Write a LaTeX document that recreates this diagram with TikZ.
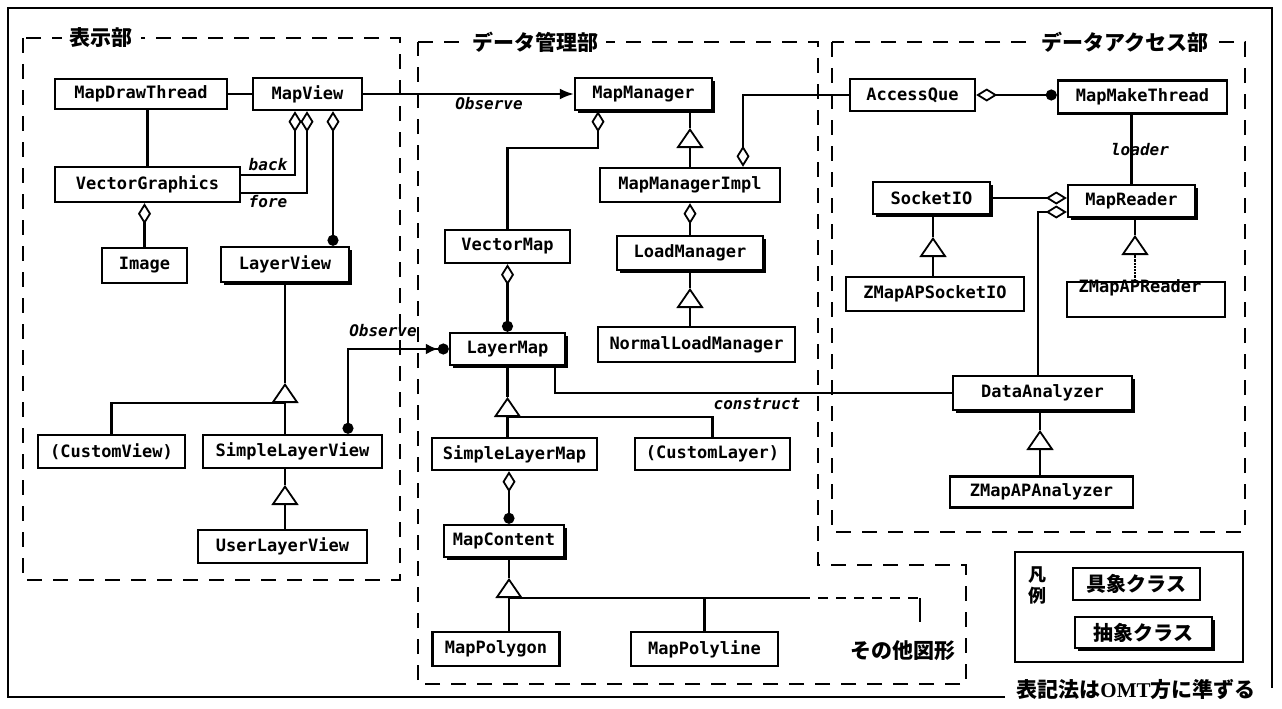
\documentclass[tikz,border=0pt]{standalone}
\usepackage{fontspec}
\newfontfamily\clsf{DejaVu Sans Mono}
\newfontfamily\jp{Noto Sans CJK JP}
\newfontfamily\lserif{Liberation Serif}
\usetikzlibrary{arrows.meta,shadows,calc}
\begin{document}
\begin{tikzpicture}[x=1pt,y=-1pt,
  cls/.style={draw,line width=2.4pt,fill=white,inner sep=0pt,font=\clsf\bfseries\fontsize{17}{17}\selectfont},
  absc/.style={cls,drop shadow={shadow xshift=3pt,shadow yshift=-3pt,fill=black,opacity=1}},
  ln/.style={line width=2.2pt},
  dtip/.tip={Diamond[open,length=21pt,width=13pt,line width=1.8pt]},
  ctip/.tip={Circle[length=11pt]},
  agg/.style={ln,dtip-},
  aggc/.style={ln,dtip-ctip},
  gen/.style={ln,-{Triangle[open,length=20pt,width=27pt,line width=1.8pt]}},
  lbl/.style={inner sep=0pt,font=\clsf\bfseries\itshape\fontsize{16}{16}\selectfont},
  grp/.style={line width=2.4pt,dash pattern=on 15pt off 11pt},
  ttl/.style={fill=white,inner xsep=8pt,inner ysep=1pt,font=\jp\bfseries\fontsize{21}{21}\selectfont},
  jpc/.style={font=\jp\bfseries\fontsize{20}{20}\selectfont}
]
\useasboundingbox (0,0) rectangle (1282,709);
\fill[white] (0,0) rectangle (1282,709);
\draw[line width=2.2pt] (1005,697) -- (8,697) -- (8,8) -- (1272,8) -- (1272,688);

% groups
\draw[grp] (23,38) rectangle (400,580);
\draw[grp] (418,42) -- (818,42) -- (818,565) -- (966,565) -- (966,684) -- (418,684) -- cycle;
\draw[grp] (832,42) rectangle (1245,532);
\node[ttl] (tDisp) at (101,38) {表示部};
\node[ttl] (tData) at (535,42) {データ管理部};
\node[ttl] (tAcc) at (1125,42) {データアクセス部};

% display part
\node[cls,minimum width=172pt,minimum height=30pt] (MDT) at (141,94) {MapDrawThread};
\node[cls,minimum width=109pt,minimum height=32pt] (MapView) at (307.5,94) {MapView};
\node[cls,minimum width=185pt,minimum height=35pt] (VG) at (147.5,184.5) {VectorGraphics};
\node[cls,minimum width=85pt,minimum height=35pt] (Image) at (144.5,265.5) {Image};
\node[absc,minimum width=128pt,minimum height=35pt] (LayerView) at (285,264.5) {LayerView};
\node[cls,minimum width=147pt,minimum height=33pt] (CustomView) at (111.5,451.5) {(CustomView)};
\node[cls,minimum width=179pt,minimum height=33pt] (SLV) at (292.5,451.5) {SimpleLayerView};
\node[cls,minimum width=169pt,minimum height=33pt] (ULV) at (282.5,546.5) {UserLayerView};

% data management part
\node[absc,minimum width=137pt,minimum height=32pt] (MapManager) at (643.5,94) {MapManager};
\node[cls,minimum width=180pt,minimum height=34pt] (MMI) at (690,185) {MapManagerImpl};
\node[cls,minimum width=125pt,minimum height=33pt] (VectorMap) at (507.5,246.5) {VectorMap};
\node[absc,minimum width=146pt,minimum height=34pt] (LoadManager) at (690,253) {LoadManager};
\node[cls,minimum width=197pt,minimum height=35pt] (NLM) at (696.5,344.5) {NormalLoadManager};
\node[absc,minimum width=115pt,minimum height=32pt] (LayerMap) at (507.5,349) {LayerMap};
\node[cls,minimum width=165pt,minimum height=32pt] (SLM) at (514.5,454) {SimpleLayerMap};
\node[cls,minimum width=155pt,minimum height=32pt] (CustomLayer) at (712.5,454) {(CustomLayer)};
\node[absc,minimum width=120pt,minimum height=32pt] (MapContent) at (504,541) {MapContent};
\node[cls,minimum width=127pt,minimum height=34pt] (MapPolygon) at (496,649) {MapPolygon};
\node[cls,minimum width=147pt,minimum height=34pt] (MapPolyline) at (704.5,649) {MapPolyline};
\node[font=\jp\bfseries\fontsize{21}{21}\selectfont,inner sep=0pt] (Other) at (903,651) {その他図形};

% data access part
\node[cls,minimum width=125pt,minimum height=32pt] (AccessQue) at (912.5,95) {AccessQue};
\node[cls,minimum width=169pt,minimum height=33pt] (MMT) at (1142.5,97) {MapMakeThread};
\node[absc,minimum width=117pt,minimum height=32pt] (SocketIO) at (931.5,198) {SocketIO};
\node[absc,minimum width=127pt,minimum height=32pt] (MapReader) at (1131.5,201) {MapReader};
\node[cls,minimum width=178pt,minimum height=34pt] (ZSIO) at (935,294) {ZMapAPSocketIO};
\node[cls,minimum width=158pt,minimum height=35pt] (ZR) at (1146,299.5) {};
\node[inner sep=0pt,font=\clsf\bfseries\fontsize{17}{17}\selectfont] (ZRt) at (1140,288) {ZMapAPReader};
\node[absc,minimum width=179pt,minimum height=34pt] (DA) at (1042.5,393) {DataAnalyzer};
\node[cls,minimum width=183pt,minimum height=31pt] (ZA) at (1041.5,492) {ZMapAPAnalyzer};

% legend
\node[draw,line width=2.2pt,minimum width=228pt,minimum height=110pt,inner sep=0pt] (Legend) at (1129,607) {};
\node[font=\jp\bfseries\fontsize{18}{18}\selectfont,inner sep=0pt] (Lg1) at (1037,575) {凡};
\node[font=\jp\bfseries\fontsize{18}{18}\selectfont,inner sep=0pt] (Lg2) at (1037,596) {例};
\node[cls,jpc,minimum width=127pt,minimum height=32pt] (Concrete) at (1136.5,584) {具象クラス};
\node[absc,jpc,minimum width=137pt,minimum height=31pt] (Abstract) at (1143.5,632.5) {抽象クラス};
\node[inner xsep=4pt,inner ysep=1pt,font=\jp\bfseries\fontsize{21}{21}\selectfont] (Note) at (1136,690) {表記法は{\lserif\bfseries OMT}方に準ずる};

% --- connectors: display part
\draw[ln] (MDT) -- (MapView);
\draw[ln] (VG.north) -- (VG.north |- MDT.south);
\coordinate (mvb) at ([xshift=-12.5pt]MapView.south);
\coordinate (mvf) at ([xshift=-0.5pt]MapView.south);
\coordinate (mvl) at ([xshift=25.5pt]MapView.south);
\coordinate (vgb) at ([yshift=9.5pt]VG.east);
\coordinate (vgf) at ([yshift=-8.5pt]VG.east);
\draw[agg] (mvb) |- (vgb);
\draw[agg] (mvf) |- (vgf);
\draw[aggc] (mvl) -- (mvl |- LayerView.north);
\draw[agg] (VG.south -| Image.north) -- (Image.north);
\node[lbl] (lback) at (268,165) {back};
\node[lbl] (lfore) at (268,202) {fore};

\coordinate (g1) at (285,403); \coordinate (g1a) at (285,383);
\draw[ln] (LayerView.south) -- (g1a);
\draw[gen] (g1) -- (g1a);
\draw[ln] (CustomView.north) |- (g1);
\draw[ln] (g1 |- SLV.north) -- (g1);
\coordinate (g2) at (285,505); \coordinate (g2a) at (285,485);
\draw[ln] (g2a) -- (g2a |- SLV.south);
\draw[gen] (g2) -- (g2a);
\draw[ln] (g2 |- ULV.north) -- (g2);

\coordinate (slvo) at ([xshift=55.5pt]SLV.north);
\draw[ln,ctip-{Latex[length=12pt,width=11pt] Circle[length=11pt]}] (slvo) |- (LayerMap.west);
\node[lbl] (lobs2) at (383,331) {Observe};

\draw[ln,-{Latex[length=14pt,width=11pt]}] (MapView) -- (MapManager);
\node[lbl] (lobs1) at (489,104) {Observe};

% --- data management part
\coordinate (mm1) at ([xshift=-45.5pt]MapManager.south);
\draw[agg] (mm1) -- ++(0,37) -| (VectorMap.north);
\coordinate (g3) at (690,152); \coordinate (g3a) at (690,128);
\draw[ln] (g3a) -- (g3a |- MapManager.south);
\draw[gen] (g3) -- (g3a);
\draw[ln] (MMI.north) -- (g3);
\draw[agg] (MMI.south) -- (LoadManager.north);
\coordinate (g4) at (690,309); \coordinate (g4a) at (690,288);
\draw[ln] (LoadManager.south) -- (g4a);
\draw[gen] (g4) -- (g4a);
\draw[ln] (g4 |- NLM.north) -- (g4);
\coordinate (mmi2) at ([xshift=53pt]MMI.north);
\draw[agg] (mmi2) |- (AccessQue.west);
\draw[aggc] (VectorMap.south) -- (LayerMap.north);
\coordinate (g5) at (507.5,417); \coordinate (g5a) at (507.5,397);
\draw[ln] (LayerMap.south) -- (g5a);
\draw[gen] (g5) -- (g5a);
\draw[ln] (g5) -| (CustomLayer.north);
\draw[ln] (g5 |- SLM.north) -- (g5);
\coordinate (lm2) at ([xshift=47.5pt]LayerMap.south);
\draw[ln] (lm2) |- (DA.west);
\node[lbl] (lcon) at (757,404) {construct};
\coordinate (slm1) at ([xshift=-5.5pt]SLM.south);
\draw[aggc] (slm1) -- (slm1 |- MapContent.north);
\coordinate (g6) at (509,598); \coordinate (g6a) at (509,578);
\draw[ln] (g6a) -- (g6a |- MapContent.south);
\draw[gen] (g6) -- (g6a);
\draw[ln] (g6 |- MapPolygon.north) -- (g6);
\coordinate (oth1) at (800,598); \coordinate (oth2) at (920,598); \coordinate (oth3) at (920,622);
\draw[ln] (g6) -- (oth1);
\draw[ln,dash pattern=on 10pt off 8pt] (oth1) -- (oth2);
\draw[ln] (oth2) -- (oth3);
\draw[ln] (MapPolyline.north) -- (MapPolyline.north |- g6);

% --- data access part
\draw[ln,dtip-ctip] (AccessQue.east) -- (AccessQue.east -| MMT.west);
\draw[ln] (MapReader.north) -- (MapReader.north |- MMT.south);
\node[lbl] (lload) at (1140,150) {loader};
\coordinate (mr1) at ([yshift=3pt]MapReader.west);
\coordinate (mr2) at ([yshift=-11pt]MapReader.west);
\draw[agg] (mr1) -- (mr1 -| SocketIO.east);
\coordinate (da1) at ([xshift=-4.5pt]DA.north);
\draw[agg] (mr2) -| (da1);
\coordinate (g7) at (933,258); \coordinate (g7a) at (933,237);
\draw[ln] (g7a) -- (g7a |- SocketIO.south);
\draw[gen] (g7) -- (g7a);
\draw[ln] (g7 |- ZSIO.north) -- (g7);
\coordinate (g8) at (1135,257); \coordinate (g8a) at (1135,235);
\draw[ln] (g8a) -- (g8a |- MapReader.south);
\draw[gen] (g8) -- (g8a);
\draw[ln,densely dotted] (g8 |- ZR.north) -- (g8);
\coordinate (g9) at (1040,450); \coordinate (g9a) at (1040,430);
\draw[ln] (g9a) -- (g9a |- DA.south);
\draw[gen] (g9) -- (g9a);
\draw[ln] (g9 |- ZA.north) -- (g9);
\end{tikzpicture}
\end{document}
